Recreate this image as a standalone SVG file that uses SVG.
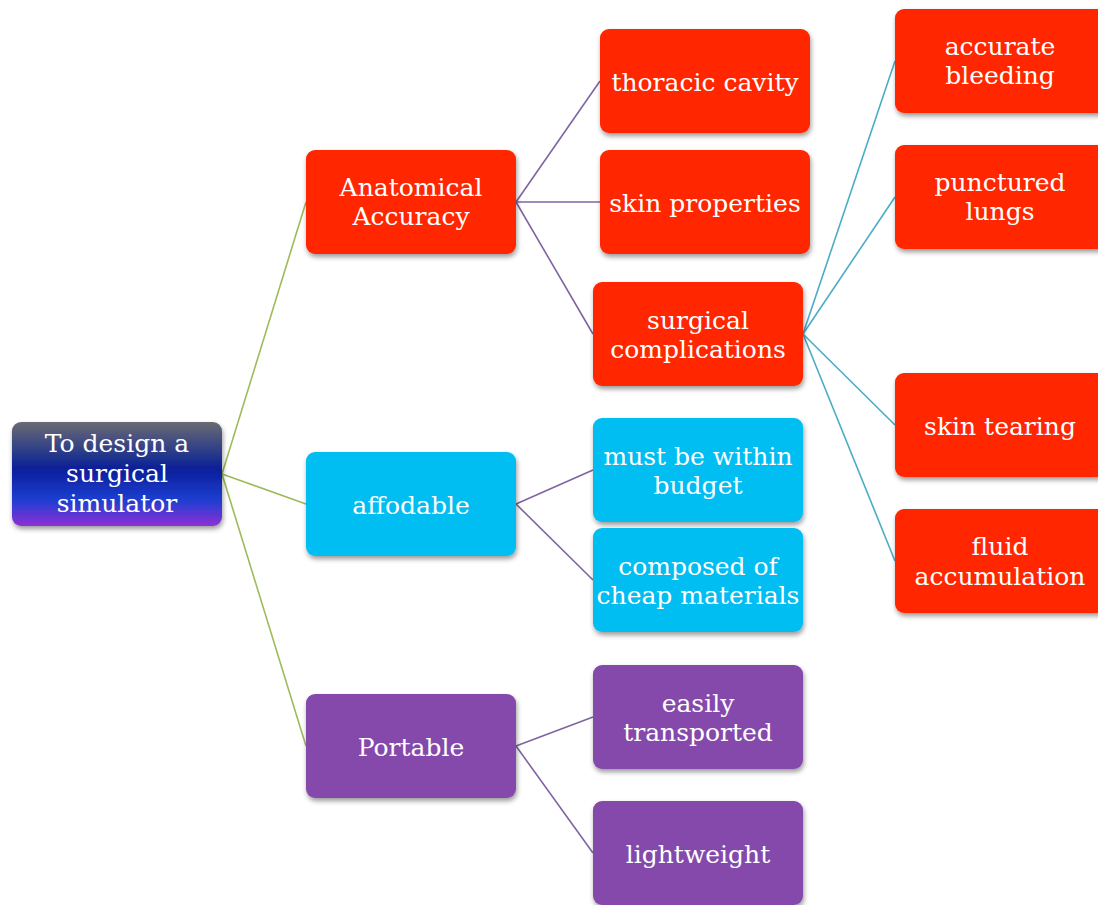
<svg xmlns="http://www.w3.org/2000/svg" width="1098" height="905" viewBox="0 0 1098 905">
<style>
.n rect{rx:9;ry:9;filter:url(#sh)}
.red rect{fill:#ff2600}
.cyan rect{fill:#00bdf2}
.pur rect{fill:#8548ab}
text{font-family:"DejaVu Serif","Liberation Serif",serif;font-size:25px;fill:#fff;text-anchor:middle}
.c line{fill:none;stroke-width:1.6}
.g{stroke:#9bbb59}
.p{stroke:#8064a2}
.b{stroke:#4bacc6}
</style>
<defs>
<filter id="sh" x="-10%" y="-10%" width="125%" height="130%">
<feGaussianBlur in="SourceAlpha" stdDeviation="2.5"/>
<feOffset dx="1" dy="3" result="o"/>
<feComponentTransfer><feFuncA type="linear" slope="0.4"/></feComponentTransfer>
<feMerge><feMergeNode/><feMergeNode in="SourceGraphic"/></feMerge>
</filter>
<linearGradient id="rg" x1="0" y1="0" x2="0" y2="1">
<stop offset="0" stop-color="#6a6a72"/>
<stop offset="0.3" stop-color="#283a8a"/>
<stop offset="0.45" stop-color="#0a1f9a"/>
<stop offset="0.75" stop-color="#1d3ed0"/>
<stop offset="1" stop-color="#8e2fd6"/>
</linearGradient>
</defs>
<g id="connectors" class="c">
<line class="g" x1="222" y1="474" x2="306" y2="202"/>
<line class="g" x1="222" y1="474" x2="306" y2="504"/>
<line class="g" x1="222" y1="474" x2="306" y2="746"/>
<line class="p" x1="516" y1="202" x2="600" y2="81"/>
<line class="p" x1="516" y1="202" x2="600" y2="202"/>
<line class="p" x1="516" y1="202" x2="593" y2="334"/>
<line class="p" x1="516" y1="504" x2="593" y2="470"/>
<line class="p" x1="516" y1="504" x2="593" y2="580"/>
<line class="p" x1="516" y1="746" x2="593" y2="717"/>
<line class="p" x1="516" y1="746" x2="593" y2="853"/>
<line class="b" x1="803" y1="334" x2="895" y2="61"/>
<line class="b" x1="803" y1="334" x2="895" y2="197"/>
<line class="b" x1="803" y1="334" x2="895" y2="425"/>
<line class="b" x1="803" y1="334" x2="895" y2="561"/>
</g>
<g id="root" class="n"><rect x="12" y="422" width="210" height="104" fill="url(#rg)"/><text x="117" y="452">To design a</text><text x="117" y="482">surgical</text><text x="117" y="512">simulator</text></g>
<g id="anatomical" class="n red"><rect x="306" y="150" width="210" height="104"/><text x="411" y="196">Anatomical</text><text x="411" y="225">Accuracy</text></g>
<g id="thoracic" class="n red"><rect x="600" y="29" width="210" height="104"/><text x="705" y="91">thoracic cavity</text></g>
<g id="skinprop" class="n red"><rect x="600" y="150" width="210" height="104"/><text x="705" y="212">skin properties</text></g>
<g id="complications" class="n red"><rect x="593" y="282" width="210" height="104"/><text x="698" y="329">surgical</text><text x="698" y="358">complications</text></g>
<g id="bleeding" class="n red"><rect x="895" y="9" width="215" height="104"/><text x="1000" y="55">accurate</text><text x="1000" y="84">bleeding</text></g>
<g id="lungs" class="n red"><rect x="895" y="145" width="215" height="104"/><text x="1000" y="191">punctured</text><text x="1000" y="220">lungs</text></g>
<g id="tearing" class="n red"><rect x="895" y="373" width="215" height="104"/><text x="1000" y="435">skin tearing</text></g>
<g id="fluid" class="n red"><rect x="895" y="509" width="215" height="104"/><text x="1000" y="555">fluid</text><text x="1000" y="585">accumulation</text></g>
<g id="affordable" class="n cyan"><rect x="306" y="452" width="210" height="104"/><text x="411" y="514">affodable</text></g>
<g id="budget" class="n cyan"><rect x="593" y="418" width="210" height="104"/><text x="698" y="465">must be within</text><text x="698" y="494">budget</text></g>
<g id="cheap" class="n cyan"><rect x="593" y="528" width="210" height="104"/><text x="698" y="575">composed of</text><text x="698" y="604">cheap materials</text></g>
<g id="portable" class="n pur"><rect x="306" y="694" width="210" height="104"/><text x="411" y="756">Portable</text></g>
<g id="transported" class="n pur"><rect x="593" y="665" width="210" height="104"/><text x="698" y="712">easily</text><text x="698" y="741">transported</text></g>
<g id="lightweight" class="n pur"><rect x="593" y="801" width="210" height="104"/><text x="698" y="863">lightweight</text></g>
</svg>
